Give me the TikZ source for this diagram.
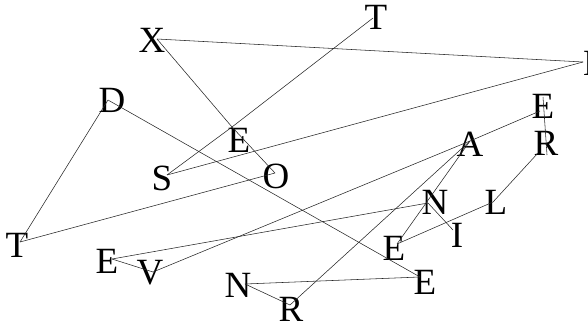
\documentclass[tikz,border=0pt]{standalone}
\usepackage{fontspec}
\setmainfont{Liberation Serif}
\begin{document}
\begin{tikzpicture}[x=1pt,y=-1pt,
  letter/.style={font=\fontsize{37}{37}\selectfont, inner sep=0pt, text=black},
  link/.style={draw=black!85, line width=0.55pt}]
\useasboundingbox (0,0) rectangle (588,329);

% letters
\node[letter] (x)  at (152,40)  {X};
\node[letter] (t1) at (376,17)  {T};
\node[letter] (i1) at (589,63)  {I};
\node[letter] (d)  at (112,100) {D};
\node[letter] (e1) at (239,140) {E};
\node[letter] (s)  at (162,178) {S};
\node[letter] (o)  at (276,176) {O};
\node[letter] (t2) at (17,245)  {T};
\node[letter] (e2) at (107,261) {E};
\node[letter] (v)  at (150,273) {V};
\node[letter] (n1) at (238,285) {N};
\node[letter] (r1) at (291,309) {R};
\node[letter] (a)  at (470,144) {A};
\node[letter] (e3) at (543,106) {E};
\node[letter] (r2) at (546,143) {R};
\node[letter] (n2) at (435,202) {N};
\node[letter] (l)  at (496,202) {L};
\node[letter] (i2) at (457,235) {I};
\node[letter] (e4) at (394,248) {E};
\node[letter] (e5) at (425,282) {E};

% attachment points of the links
\coordinate (xp)  at (157,39);
\coordinate (t1p) at (373,18);
\coordinate (i1p) at (583,62);
\coordinate (dp)  at (108,100);
\coordinate (e1p) at (232,127);
\coordinate (sp)  at (167,175);
\coordinate (op)  at (275,173);
\coordinate (t2p) at (20,242);
\coordinate (e2p) at (112,259);
\coordinate (vp)  at (153,272);
\coordinate (n1p) at (245,284);
\coordinate (r1p) at (290,305);
\coordinate (ap)  at (470,141);
\coordinate (e3p) at (540,111);
\coordinate (e3q) at (543,97);
\coordinate (r2p) at (538,153);
\coordinate (r2q) at (547,155);
\coordinate (n2p) at (428,203);
\coordinate (lp)  at (493,202);
\coordinate (i2p) at (453,230);
\coordinate (e4p) at (397,244);
\coordinate (e5p) at (420,277);

% links
\draw[link] (xp) -- (i1p);
\draw[link] (xp) -- (e1p);
\draw[link] (e1p) -- (op);
\draw[link] (t1p) -- (e1p) -- (sp);
\draw[link] (sp) -- (i1p);
\draw[link] (dp) -- (t2p);
\draw[link] (dp) -- (e5p);
\draw[link] (t2p) -- (op);
\draw[link] (e2p) -- (n2p);
\draw[link] (e2p) -- (vp);
\draw[link] (vp) -- (ap) -- (e3p);
\draw[link] (e3q) -- (r2q);
\draw[link] (r2p) -- (lp);
\draw[link] (lp) -- (e4p);
\draw[link] (ap) -- (e4p);
\draw[link] (ap) -- (r1p);
\draw[link] (n2p) -- (i2p);
\draw[link] (n1p) -- (e5p);
\draw[link] (n1p) -- (r1p);
\end{tikzpicture}
\end{document}
